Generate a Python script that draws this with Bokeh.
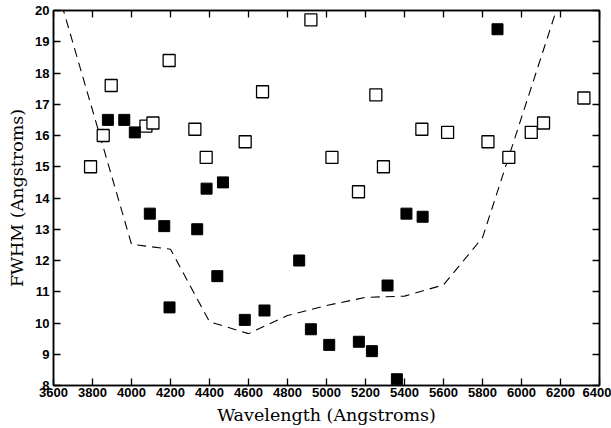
from bokeh.plotting import figure
from bokeh.models import FixedTicker, LinearAxis, Range1d
from bokeh.embed import file_html
from bokeh.resources import INLINE

# Open squares
open_x = [3790, 3855, 3896, 4074, 4110, 4193, 4325, 4383, 4583, 4672, 4920,
          5028, 5164, 5253, 5292, 5489, 5621, 5828, 5935, 6050, 6113, 6320]
open_y = [15.0, 16.0, 17.6, 16.3, 16.4, 18.4, 16.2, 15.3, 15.8, 17.4, 19.7,
          15.3, 14.2, 17.3, 15.0, 16.2, 16.1, 15.8, 15.3, 16.1, 16.4, 17.2]

# Filled squares
fill_x = [3879, 3963, 4017, 4094, 4168, 4195, 4337, 4385, 4440, 4469, 4581,
          4682, 4860, 4920, 5014, 5166, 5233, 5313, 5361, 5410, 5493, 5877]
fill_y = [16.5, 16.5, 16.1, 13.5, 13.1, 10.5, 13.0, 14.3, 11.5, 14.5, 10.1,
          10.4, 12.0, 9.8, 9.3, 9.4, 9.1, 11.2, 8.2, 13.5, 13.4, 19.4]

# Dashed limit curve
lim_x = [3600, 4000, 4200, 4400, 4600, 4800, 5000, 5200, 5400, 5600, 5800, 6200]
lim_y = [21.1, 12.52, 12.36, 10.04, 9.66, 10.24, 10.56, 10.82, 10.86, 11.22, 12.73, 20.42]

x_ticks = list(range(3600, 6401, 200))
y_ticks = list(range(8, 21))

p = figure(width=611, height=428, output_backend="svg", toolbar_location=None,
           x_range=Range1d(3600, 6400), y_range=Range1d(8, 20),
           min_border_left=53, min_border_right=12, min_border_top=10,
           min_border_bottom=43)
p.xgrid.visible = False
p.ygrid.visible = False
p.outline_line_color = "black"
p.outline_line_width = 1.5
p.background_fill_color = "white"
p.border_fill_color = "white"

p.line(lim_x, lim_y, line_color="black", line_width=1.1, line_dash="9 6")
p.scatter(open_x, open_y, marker="square", size=12, fill_color="white",
          line_color="black", line_width=1.3)
p.scatter(fill_x, fill_y, marker="square", size=11, fill_color="black",
          line_color="black", line_width=1)

for ax in p.xaxis + p.yaxis:
    ax.major_tick_in = 7
    ax.major_tick_out = 0
    ax.minor_tick_in = 0
    ax.minor_tick_out = 0
    ax.axis_line_width = 1.5
    ax.major_tick_line_width = 1.3
    ax.major_label_text_font = "Liberation Sans"
    ax.major_label_text_font_style = "bold"
    ax.major_label_text_font_size = "13px"
    ax.major_label_text_color = "black"
    ax.axis_label_text_font = "DejaVu Serif"
    ax.axis_label_text_font_style = "normal"
    ax.axis_label_text_font_size = "17.5px"
    ax.axis_label_text_color = "black"

p.xaxis.ticker = FixedTicker(ticks=x_ticks)
p.yaxis.ticker = FixedTicker(ticks=y_ticks)
p.xaxis.axis_label = "Wavelength (Angstroms)"
p.yaxis.axis_label = "FWHM (Angstroms)"
p.xaxis.major_label_standoff = 2
p.yaxis.major_label_standoff = 4
p.xaxis.axis_label_standoff = 5
p.yaxis.axis_label_standoff = 5

top = LinearAxis(ticker=FixedTicker(ticks=x_ticks), major_label_text_font_size="0px",
                 major_tick_in=7, major_tick_out=0, minor_tick_in=0, minor_tick_out=0,
                 axis_line_width=1.5, major_tick_line_width=1.3)
top.major_label_text_alpha = 0
right = LinearAxis(ticker=FixedTicker(ticks=y_ticks), major_label_text_font_size="0px",
                   major_tick_in=7, major_tick_out=0, minor_tick_in=0, minor_tick_out=0,
                   axis_line_width=1.5, major_tick_line_width=1.3)
right.major_label_text_alpha = 0
top.major_label_standoff = 0
right.major_label_standoff = 0
p.add_layout(top, "above")
p.add_layout(right, "right")

open("out.html", "w").write(file_html(p, INLINE))
